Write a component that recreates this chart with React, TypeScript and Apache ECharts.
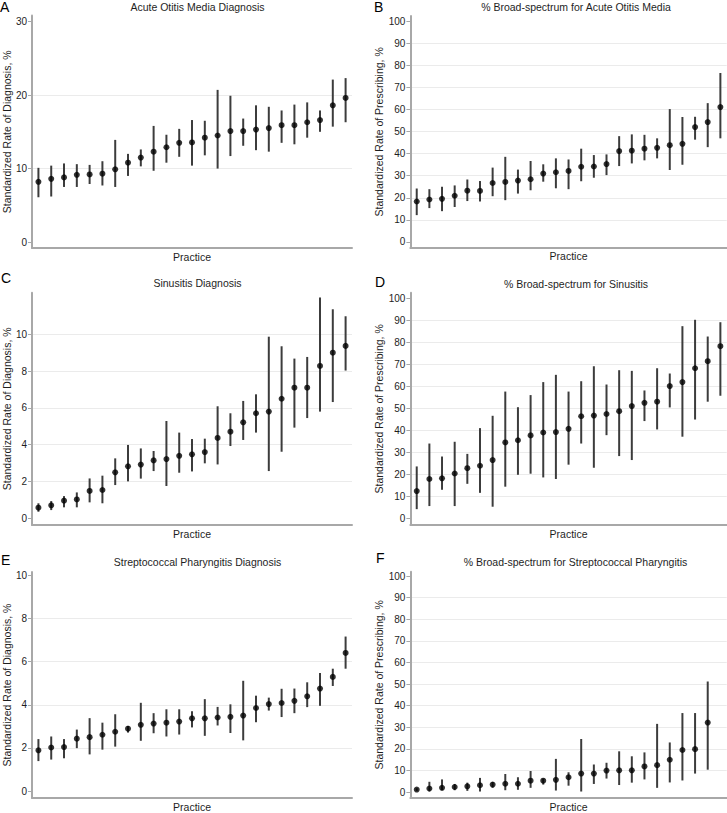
import { useEffect, useRef } from 'react';
import * as echarts from 'echarts';

const practices = ['1','2','3','4','5','6','7','8','9','10','11','12','13','14','15','16','17','18','19','20','21','22','23','24','25'];

// A: Acute Otitis Media Diagnosis
const aomDxRate = [8.2, 8.6, 8.8, 9.15, 9.2, 9.3, 9.9, 10.8, 11.5, 12.3, 12.9, 13.5, 13.55, 14.2, 14.5, 15.1, 15.1, 15.3, 15.5, 15.9, 15.9, 16.3, 16.6, 18.6, 19.6];
const aomDxLower = [6.1, 6.2, 7.5, 7.5, 7.9, 7.7, 7.5, 9.0, 10.3, 9.7, 10.8, 11.6, 10.4, 11.8, 10.0, 11.7, 13.1, 12.5, 12.3, 13.5, 13.3, 14.2, 15.0, 15.7, 16.3];
const aomDxUpper = [10.1, 10.4, 10.7, 10.6, 10.5, 11.0, 13.9, 12.0, 12.6, 15.8, 14.6, 15.4, 16.6, 16.5, 20.7, 19.9, 16.8, 18.6, 18.4, 17.9, 18.7, 19.0, 17.9, 22.1, 22.3];

// B: % Broad-spectrum for Acute Otitis Media
const aomBroadRate = [18.3, 19.2, 19.5, 20.9, 23.2, 23.1, 26.7, 27.2, 27.8, 28.4, 31.0, 31.6, 32.2, 34.1, 34.2, 35.3, 41.2, 41.4, 42.3, 42.7, 43.9, 44.5, 52.1, 54.4, 61.2];
const aomBroadLower = [12.1, 15.3, 13.9, 15.8, 18.5, 18.3, 20.7, 18.9, 21.9, 23.4, 27.3, 24.3, 23.9, 27.5, 29.1, 30.3, 34.4, 35.6, 37.0, 37.9, 32.6, 35.0, 46.4, 43.0, 47.0];
const aomBroadUpper = [24.2, 23.9, 25.0, 25.6, 28.3, 27.6, 33.7, 38.6, 32.8, 36.7, 35.2, 37.9, 37.4, 42.3, 39.4, 39.7, 48.0, 48.8, 48.6, 47.0, 60.3, 56.7, 56.8, 63.0, 76.7];

// C: Sinusitis Diagnosis
const sinusDxRate = [0.58, 0.71, 0.96, 1.03, 1.49, 1.54, 2.5, 2.83, 2.92, 3.15, 3.22, 3.4, 3.48, 3.6, 4.37, 4.71, 5.22, 5.71, 5.8, 6.5, 7.1, 7.1, 8.28, 9.0, 9.37];
const sinusDxLower = [0.36, 0.45, 0.6, 0.6, 0.87, 0.82, 1.81, 2.01, 2.16, 2.57, 1.76, 2.48, 2.55, 2.99, 2.93, 3.93, 4.26, 4.66, 2.57, 3.62, 4.93, 5.45, 5.8, 6.32, 8.03];
const sinusDxUpper = [0.82, 0.94, 1.21, 1.41, 2.17, 2.32, 3.26, 3.99, 3.8, 3.66, 5.29, 4.66, 4.31, 4.33, 6.09, 5.71, 6.38, 6.74, 9.87, 9.35, 8.68, 8.77, 12.0, 11.36, 10.98];

// D: % Broad-spectrum for Sinusitis
const sinusBroadRate = [12.4, 17.9, 18.2, 20.4, 22.8, 23.9, 26.5, 34.5, 35.5, 37.7, 39.0, 39.2, 40.7, 46.4, 46.7, 47.4, 48.7, 51.0, 52.5, 53.0, 60.1, 61.9, 68.2, 71.4, 78.2];
const sinusBroadLower = [4.2, 5.6, 13.0, 5.6, 15.7, 11.6, 5.3, 14.4, 19.8, 20.3, 18.6, 17.9, 24.4, 34.0, 23.0, 37.8, 28.3, 26.5, 44.2, 40.4, 50.4, 37.1, 44.9, 53.0, 55.7];
const sinusBroadUpper = [23.6, 34.0, 28.1, 34.8, 29.3, 41.0, 46.6, 57.6, 50.5, 56.0, 61.9, 65.2, 57.6, 62.3, 69.1, 60.8, 67.3, 67.0, 58.1, 68.2, 65.8, 87.3, 90.2, 82.6, 89.1];

// E: Streptococcal Pharyngitis Diagnosis
const strepDxRate = [1.89, 2.02, 2.04, 2.43, 2.5, 2.61, 2.75, 2.89, 3.07, 3.13, 3.17, 3.22, 3.37, 3.37, 3.41, 3.44, 3.5, 3.85, 4.03, 4.08, 4.18, 4.39, 4.75, 5.29, 6.4];
const strepDxLower = [1.39, 1.46, 1.52, 1.99, 1.7, 1.92, 2.06, 2.71, 2.33, 2.68, 2.53, 2.62, 2.95, 2.56, 3.04, 2.69, 2.35, 3.19, 3.73, 3.43, 3.61, 3.89, 3.95, 4.87, 5.67];
const strepDxUpper = [2.41, 2.53, 2.41, 2.85, 3.38, 3.17, 3.56, 3.02, 4.09, 3.61, 3.79, 3.79, 3.7, 4.26, 3.9, 4.02, 5.11, 4.42, 4.33, 4.74, 4.75, 5.04, 5.47, 5.67, 7.16];

// F: % Broad-spectrum for Streptococcal Pharyngitis (24 practices)
const strepBroadRate = [1.2, 1.7, 2.0, 2.4, 2.7, 3.2, 3.5, 3.9, 3.9, 5.3, 5.3, 5.7, 6.9, 8.6, 8.6, 10.0, 10.1, 10.1, 11.9, 12.5, 15.0, 19.5, 19.9, 32.2];
const strepBroadLower = [0.6, 0.3, 0.9, 0.9, 0.6, 0.3, 2.1, 0.9, 1.1, 2.0, 3.5, 0.75, 3.0, 0.3, 3.8, 6.3, 3.3, 4.4, 5.9, 2.0, 4.5, 5.4, 8.6, 10.4];
const strepBroadUpper = [1.8, 4.8, 5.9, 3.8, 4.4, 6.6, 4.7, 8.4, 6.9, 9.8, 6.3, 15.4, 9.2, 24.6, 12.8, 13.6, 18.9, 16.6, 18.4, 31.6, 23.0, 36.6, 36.6, 51.2];

// Tick labels
const aomDxTicks = [0, 10, 20, 30];
const sinusDxTicks = [0, 2, 4, 6, 8, 10];
const strepDxTicks = [0, 2, 4, 6, 8, 10];
const prescribingTicks = [0, 10, 20, 30, 40, 50, 60, 70, 80, 90, 100];

const FONT = '"Liberation Sans", Arial, Helvetica, sans-serif';
const AXIS_GRAY = '#a8a8a8';
const GRID_GRAY = '#ebebeb';
const TEXT = '#1e1e1e';

type Panel = {
  letter: string;
  title: string;
  yName: string;
  rate: number[];
  lower: number[];
  upper: number[];
  ticks: number[];
  hideTopGrid: boolean;
  min: number;
  max: number;
  grid: { left: number; top: number; width: number; height: number };
  nameGap: number;
  titlePos: [number, number];
  letterPos: [number, number];
};

const DX = 'Standardized Rate of Diagnosis, %';
const RX = 'Standardized Rate of Prescribing, %';

const panels: Panel[] = [
  { letter: 'A', title: 'Acute Otitis Media Diagnosis', yName: DX, rate: aomDxRate, lower: aomDxLower, upper: aomDxUpper,
    ticks: aomDxTicks, hideTopGrid: true, min: -0.8, max: 30.8,
    grid: { left: 30, top: 15.6, width: 322, height: 232.4 }, nameGap: 19, titlePos: [197.5, 7], letterPos: [0, 6.5] },
  { letter: 'B', title: '% Broad-spectrum for Acute Otitis Media', yName: RX, rate: aomBroadRate, lower: aomBroadLower, upper: aomBroadUpper,
    ticks: prescribingTicks, hideTopGrid: true, min: -2.7, max: 102.6,
    grid: { left: 410.4, top: 16, width: 316.3, height: 231.7 }, nameGap: 23.5, titlePos: [576, 7], letterPos: [374, 6.5] },
  { letter: 'C', title: 'Sinusitis Diagnosis', yName: DX, rate: sinusDxRate, lower: sinusDxLower, upper: sinusDxUpper,
    ticks: sinusDxTicks, hideTopGrid: false, min: -0.36, max: 12.26,
    grid: { left: 30, top: 292.7, width: 322, height: 232.3 }, nameGap: 19, titlePos: [197.5, 283], letterPos: [1, 278] },
  { letter: 'D', title: '% Broad-spectrum for Sinusitis', yName: RX, rate: sinusBroadRate, lower: sinusBroadLower, upper: sinusBroadUpper,
    ticks: prescribingTicks, hideTopGrid: true, min: -3.0, max: 102.5,
    grid: { left: 410.4, top: 292.7, width: 316.3, height: 232.3 }, nameGap: 23.5, titlePos: [576, 283.5], letterPos: [375, 282] },
  { letter: 'E', title: 'Streptococcal Pharyngitis Diagnosis', yName: DX, rate: strepDxRate, lower: strepDxLower, upper: strepDxUpper,
    ticks: strepDxTicks, hideTopGrid: true, min: -0.32, max: 10.15,
    grid: { left: 30, top: 572, width: 322, height: 231.3 }, nameGap: 19, titlePos: [197.5, 561.5], letterPos: [1, 560] },
  { letter: 'F', title: '% Broad-spectrum for Streptococcal Pharyngitis', yName: RX, rate: strepBroadRate, lower: strepBroadLower, upper: strepBroadUpper,
    ticks: prescribingTicks, hideTopGrid: true, min: -2.7, max: 102,
    grid: { left: 410.4, top: 571.7, width: 316.3, height: 230.6 }, nameGap: 23.5, titlePos: [575.5, 561.5], letterPos: [376, 558] },
];

function buildOption() {
  const grid: any[] = [];
  const xAxis: any[] = [];
  const yAxis: any[] = [];
  const series: any[] = [];
  const graphic: any[] = [];

  panels.forEach((p, i) => {
    grid.push({ ...p.grid, containLabel: false });
    xAxis.push({
      type: 'category',
      gridIndex: i,
      data: practices,
      boundaryGap: true,
      axisLine: { show: true, onZero: false, lineStyle: { color: AXIS_GRAY, width: 2 } },
      axisTick: { show: false },
      axisLabel: { show: false },
      splitLine: { show: false },
      name: 'Practice',
      nameLocation: 'middle',
      nameGap: 3,
      nameTextStyle: { fontSize: 10.5, color: TEXT, fontFamily: FONT, verticalAlign: 'top' },
    });
    const splitColors = p.ticks.map((_, k) =>
      k === 0 || (p.hideTopGrid && k === p.ticks.length - 1) ? 'rgba(0,0,0,0)' : GRID_GRAY
    );
    yAxis.push({
      type: 'value',
      gridIndex: i,
      min: p.min,
      max: p.max,
      axisLine: { show: true, lineStyle: { color: AXIS_GRAY, width: 2 } },
      axisTick: { show: true, length: 4, customValues: p.ticks, lineStyle: { color: AXIS_GRAY, width: 1 } },
      axisLabel: { customValues: p.ticks, fontSize: 10, color: TEXT, fontFamily: FONT, margin: 5 },
      splitLine: { show: true, lineStyle: { color: splitColors, width: 1 } },
      name: p.yName,
      nameLocation: 'middle',
      nameGap: p.nameGap,
      nameTextStyle: { fontSize: 10.5, color: TEXT, fontFamily: FONT },
    });
    series.push({
      type: 'custom',
      xAxisIndex: i,
      yAxisIndex: i,
      encode: { x: 0, y: [1, 2] },
      data: p.lower.map((lo, k) => [k, lo, p.upper[k]]),
      renderItem: (_params: any, api: any) => {
        const x = api.value(0);
        const a = api.coord([x, api.value(1)]);
        const b = api.coord([x, api.value(2)]);
        return {
          type: 'line',
          shape: { x1: a[0], y1: a[1], x2: b[0], y2: b[1] },
          style: { stroke: '#3c3c3c', lineWidth: 2 },
        };
      },
      z: 2,
    });
    series.push({
      type: 'scatter',
      xAxisIndex: i,
      yAxisIndex: i,
      data: p.rate.map((v, k) => [k, v]),
      symbol: 'circle',
      symbolSize: 6,
      itemStyle: { color: '#000000' },
      z: 3,
    });
    graphic.push({
      type: 'text',
      x: p.letterPos[0],
      y: p.letterPos[1],
      style: { text: p.letter, fontSize: 14, fill: '#000', fontFamily: FONT, align: 'left', verticalAlign: 'middle' },
    });
    graphic.push({
      type: 'text',
      x: p.titlePos[0],
      y: p.titlePos[1],
      style: { text: p.title, fontSize: 10.5, fill: TEXT, fontFamily: FONT, align: 'center', verticalAlign: 'middle' },
    });
  });

  return {
    animation: false,
    backgroundColor: '#ffffff',
    textStyle: { fontFamily: FONT },
    grid,
    xAxis,
    yAxis,
    series,
    graphic,
  };
}

export default function App() {
  const ref = useRef<HTMLDivElement>(null);
  useEffect(() => {
    document.body.style.margin = '0';
    if (!ref.current) return;
    const chart = echarts.init(ref.current, undefined, { renderer: 'svg' });
    chart.setOption(buildOption() as any);
    return () => chart.dispose();
  }, []);
  return <div ref={ref} style={{ width: 727, height: 813 }} />;
}
